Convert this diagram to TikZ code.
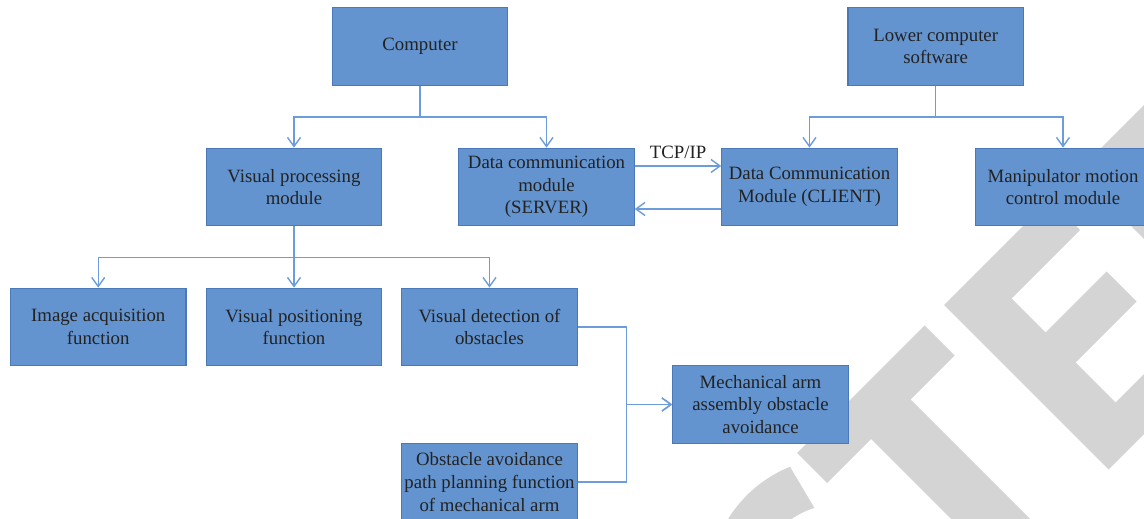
\documentclass[tikz,border=0pt]{standalone}
\usepackage{fontspec}
\setmainfont{Liberation Serif}
\usetikzlibrary{arrows.meta}

\definecolor{boxfill}{HTML}{6494CF}
\definecolor{boxline}{HTML}{4A79B9}
\definecolor{linkblue}{HTML}{6C9CDC}
\definecolor{markgray}{HTML}{D4D4D4}
\definecolor{txt}{HTML}{222222}

\tikzset{
  module/.style={draw=boxline, line width=1.1pt, fill=boxfill, text=txt, align=center,
    minimum width=175.5pt, minimum height=77.7pt, inner sep=1pt,
    font=\fontsize{18.8}{22.7}\selectfont},
  flow/.style={draw=linkblue, line width=1.4pt, -{Straight Barb[length=9pt,width=13pt]}},
}

\begin{document}
\begin{tikzpicture}[x=1pt,y=-1pt]
    \useasboundingbox (0,0) rectangle (1144,519);
    \clip (0,0) rectangle (1144,519);
    \fill[white] (0,0) rectangle (1144,519);

    \fill[markgray] plot[domain=-112:-165,samples=30] ({838.7+130*cos(\x)},{587.3+130*sin(\x)})
      -- plot[domain=-165:-107,samples=30] ({838.7+83*cos(\x)},{587.3+83*sin(\x)}) -- cycle;
    \fill[markgray] (797,453) -- (924.5,325.5) -- (954.5,355.5) -- (910.5,399.5)
      -- (1044.5,533.5) -- (1005,573) -- (871,439) -- (827,483) -- cycle;
    \fill[markgray] (944,305) -- (1049.5,199.5) -- (1080,230) -- (1011.5,298.5)
      -- (1045.5,332.5) -- (1106.5,271.5) -- (1136.5,301.5) -- (1075.5,362.5)
      -- (1115.5,402.5) -- (1189,329) -- (1219,359) -- (1108.5,469.5) -- cycle;
    \fill[markgray] (1077,172) -- (1199.5,49.5) -- (1230,80) -- (1144.5,165.5)
      -- (1278.5,299.5) -- (1241.5,336.5) -- cycle;

    \node[module] (comp) at (420,46.5) {Computer};
    \node[module] (lcs) at (935.7,46.5) {Lower computer\\software};
    \node[module] (vpm) at (294,187) {Visual processing\\module};
    \node[module] (dcm) at (546.5,187) {Data communication\\module\\(SERVER)};
    \node[module] (client) at (809.5,187) {Data Communication\\Module (CLIENT)};
    \node[module] (manip) at (1063,187) {Manipulator motion\\control module};
    \node[module] (img) at (98.2,327) {Image acquisition\\function};
    \node[module] (vpos) at (294,327) {Visual positioning\\function};
    \node[module] (vdo) at (489.5,327) {Visual detection of\\obstacles};
    \node[module] (oap) at (489.5,482) {Obstacle avoidance\\path planning function\\of mechanical arm};
    \node[module] (mech) at (760.5,404.5) {Mechanical arm\\assembly obstacle\\avoidance};

    \draw[flow] (comp.south) -- ++(0,31) -| (vpm.north);
    \draw[flow] (comp.south) -- ++(0,31) -| (dcm.north);
    \draw[flow] (lcs.south) -- ++(0,31) -| (client.north);
    \draw[flow] (lcs.south) -- ++(0,31) -| (manip.north);

    \draw[flow] (vpm.south) -- ++(0,31) -| (img.north);
    \draw[flow] (vpm.south) -- (vpos.north);
    \draw[flow] (vpm.south) -- ++(0,31) -| (vdo.north);

    \draw[flow] ([yshift=21pt]dcm.east) -- node[above=3pt, text=txt, font=\fontsize{18.8}{22.7}\selectfont] (tcp) {TCP/IP} ([yshift=21pt]client.west);
    \draw[flow] ([yshift=-22pt]client.west) -- ([yshift=-22pt]dcm.east);

    \draw[flow] (vdo.east) -- ++(48.4,0) |- (mech.west);
    \draw[flow] (oap.east) -- ++(48.4,0) |- (mech.west);
  \end{tikzpicture}
\end{document}
